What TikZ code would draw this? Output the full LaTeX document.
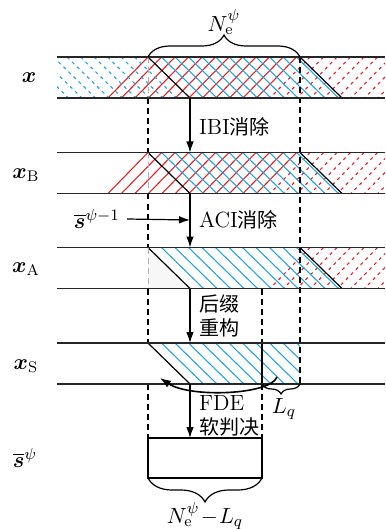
\documentclass[tikz,border=0pt]{standalone}
\usepackage{amsmath,bm}
\usepackage{fontspec}
\newfontfamily\cjk{Noto Sans CJK SC}[Scale=0.91]
\usetikzlibrary{arrows.meta,decorations.pathreplacing}
\definecolor{hred}{RGB}{232,32,38}
\definecolor{hblue}{RGB}{35,165,225}
\begin{document}
\begin{tikzpicture}[x=0.5pt,y=-0.5pt,
  font=\fontsize{11}{12}\selectfont,
  bandline/.style={line width=0.75pt,black!85},
  diagline/.style={line width=0.6pt},
  hsol/.style={line width=0.55pt},
  hdash/.style={line width=0.55pt,dash pattern=on 1.6pt off 1.9pt},
  vdash/.style={line width=0.6pt,dash pattern=on 3pt off 2pt},
  vgray/.style={line width=0.5pt,black!30,dash pattern=on 3pt off 2pt},
  arr/.style={line width=0.6pt,-{Latex[length=5.5pt,width=3.8pt]}},
  bracestyle/.style={decorate,decoration={brace,amplitude=#1},line width=0.6pt}]
\useasboundingbox (0,0) rectangle (385,529);

% ---------- band x ----------
\begin{scope}
\clip (57,57) rectangle (385,98);
\foreach \k in {0,...,11} \draw[hsol,hred] ({148+13.5*\k},57) -- ({108+13.5*\k},98);
\foreach \k in {12,...,21} \draw[hdash,hred] ({148+13.5*\k},57) -- ({108+13.5*\k},98);
\foreach \k in {-10,...,-1} \draw[hdash,hblue] ({148+13.5*\k},57) -- ({190+13.5*\k},98);
\foreach \k in {1,...,11} \draw[hsol,hblue] ({148+13.5*\k},57) -- ({190+13.5*\k},98);
\end{scope}
% ---------- band xB ----------
\begin{scope}
\clip (57,152.5) rectangle (385,193.5);
\foreach \k in {0,...,11} \draw[hsol,hred] ({148+13.5*\k},152.5) -- ({108+13.5*\k},193.5);
\foreach \k in {12,...,21} \draw[hdash,hred] ({148+13.5*\k},152.5) -- ({108+13.5*\k},193.5);
\foreach \k in {1,...,11} \draw[hsol,hblue] ({148+13.5*\k},152.5) -- ({190+13.5*\k},193.5);
\end{scope}
% ---------- band xA ----------
\fill[black!3] (148,247.5) -- (190,288.5) -- (148,288.5) -- cycle;
\begin{scope}
\clip (57,247.5) rectangle (385,288.5);
\foreach \k in {12,...,21} \draw[hdash,hred] ({148+13.5*\k},247.5) -- ({108+13.5*\k},288.5);
\foreach \k in {1,...,11} \draw[hsol,hblue] ({148+13.5*\k},247.5) -- ({190+13.5*\k},288.5);
\end{scope}
% ---------- band xS ----------
\begin{scope}
\clip (57,343) rectangle (300,384);
\foreach \k in {1,...,11} \draw[hsol,hblue] ({148+13.5*\k},343) -- ({190+13.5*\k},384);
\end{scope}

% black diagonals
\draw[diagline] (148,57) -- (190,98);
\draw[diagline] (300,57) -- (342,98);
\draw[diagline] (148,152.5) -- (190,193.5);
\draw[diagline] (300,152.5) -- (342,193.5);
\draw[diagline] (148,247.5) -- (190,288.5);
\draw[diagline] (300,247.5) -- (342,288.5);
\draw[diagline] (148,343) -- (190,384);
\draw[line width=0.7pt] (262,343) -- (262,384);

% vertical guides
\draw[vgray] (148,57) -- (148,98);
\draw[vgray] (148,152.5) -- (148,193.5);
\draw[vgray] (148,247.5) -- (148,288.5);
\draw[vdash] (148,98) -- (148,152.5);
\draw[vdash] (148,193.5) -- (148,247.5);
\draw[vdash] (148,288.5) -- (148,343);
\draw[vdash] (148,384) -- (148,438);
\draw[vdash] (300,57) -- (300,384);
\draw[vdash] (262,288.5) -- (262,343);
\draw[vdash] (262,384) -- (262,438);

% band lines
\foreach \y in {57,98,152.5,193.5,247.5,288.5,343,384}
  \draw[bandline] (57,\y) -- (385,\y);

% output box
\draw[line width=0.75pt] (148,438) rectangle (262,478);

% arrow anchors
\coordinate (a1s) at (190,98);   \coordinate (a1e) at (190,152.5);
\coordinate (a2s) at (190,193.5);\coordinate (a2e) at (190,247.5);
\coordinate (a3s) at (190,288.5);\coordinate (a3e) at (190,343);
\coordinate (a4s) at (190,384);  \coordinate (a4e) at (190,438);
\coordinate (acin) at (190,220);
\draw[arr] (a1s) -- (a1e);
\draw[arr] (a2s) -- (a2e);
\draw[arr] (a3s) -- (a3e);
\draw[arr] (a4s) -- (a4e);

% labels on arrows
\node[anchor=west] (ibi) at (192,127) {IBI{\cjk 消除}};
\node[anchor=west] (aci) at (192,220) {ACI{\cjk 消除}};
\node[anchor=west,align=left] (suf) at (192,316) {{\cjk 后缀}\\{\cjk 重构}};
\node[anchor=west,align=left] (fde) at (192,416) {FDE\\{\cjk 软判决}};

\node[anchor=east] (sprev) at (127,219) {$\overline{\boldsymbol{s}}^{\psi-1}$};
\draw[arr] (sprev.east) -- (acin);

% curved arrow
\coordinate (cvs) at (277,377);
\coordinate (cve) at (160,378);
\draw[line width=0.8pt,-{Latex[length=5.5pt,width=4pt]}] (cvs) .. controls (270,395) and (190,398) .. (cve);

% left labels
\node (lx) at (29,78) {$\boldsymbol{x}$};
\node (lxB) at (26,175) {$\boldsymbol{x}_{\mathrm{B}}$};
\node (lxA) at (26,269) {$\boldsymbol{x}_{\mathrm{A}}$};
\node (lxS) at (26,366) {$\boldsymbol{x}_{\mathrm{S}}$};
\node (ls) at (25,458) {$\overline{\boldsymbol{s}}^{\psi}$};

% braces
\draw[bracestyle=11pt] (148,57) -- (300,57);
\node (ne) at (224,22) {$N_{\mathrm{e}}^{\psi}$};
\draw[bracestyle=5pt] (300,384) -- (262,384);
\node (lq) at (284,409) {$L_q$};
\draw[bracestyle=12pt] (262,478) -- (148,478);
\node (nel) at (205,516) {$N_{\mathrm{e}}^{\psi}\!-\!L_q$};
\end{tikzpicture}
\end{document}
